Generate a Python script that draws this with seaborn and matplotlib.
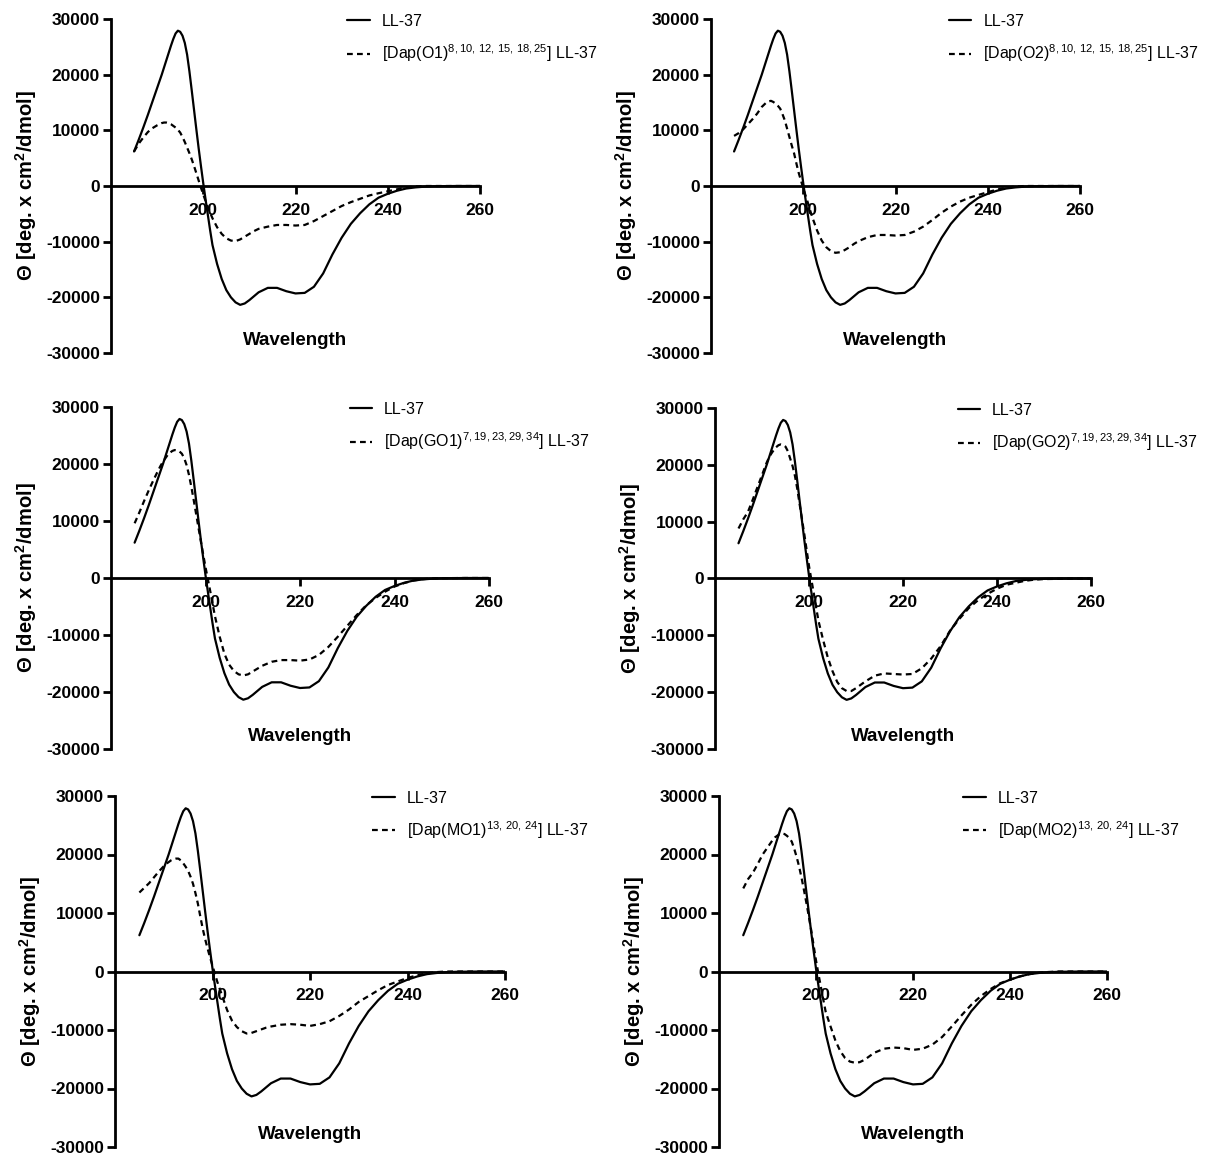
import matplotlib
matplotlib.use('Agg')
import matplotlib.pyplot as plt
import pandas as pd
import seaborn as sns

# wavelength grid (nm) shared by all curves, finer around the 195 nm peak
wavelength = ([185, 186, 187, 188, 189, 190]
              + [190.5 + 0.5 * i for i in range(24)]
              + list(range(203, 213)) + list(range(214, 251, 2)) + [255, 260])

ll37 = [6200, 8300, 10500, 12800, 15200, 17600,
        18800, 20000, 21300, 22600, 23900, 25200, 26400, 27400, 27900, 27700,
        27000, 25700, 23600, 20600, 17200, 13700, 10200, 6800, 3600, 500,
        -2400, -5200, -8000, -10600,
        -14000, -16700, -18700, -20000, -20900, -21350, -21100, -20500, -19800, -19100,
        -18300, -18300, -18900, -19300, -19200, -18100, -15700, -12300, -9300,
        -6800, -4900, -3300, -2100, -1400, -850, -450, -250, -120, -50,
        0, 0]

dap_o1 = [6200, 7600, 8700, 9700, 10400, 10900,
          11100, 11300, 11400, 11400, 11300, 11100, 10800, 10500, 10100, 9600,
          8800, 7900, 6900, 5900, 4800, 3600, 2300, 1000, -300, -1500,
          -2700, -3800, -4800, -5800,
          -7400, -8600, -9400, -9800, -9900, -9600, -9100, -8600, -8100, -7700,
          -7300, -7000, -7000, -7100, -7000, -6300, -5400, -4500, -3600,
          -2900, -2300, -1700, -1300, -950, -600, -250, -80, 0, 0,
          0, 0]

dap_o2 = [9000, 9500, 10200, 11100, 12000, 13000,
          13600, 14200, 14600, 15000, 15200, 15300, 15100, 14800, 14400, 13900,
          12900, 11800, 10300, 8800, 7300, 5900, 4100, 2400, 1000, -400,
          -1700, -3000, -4400, -5700,
          -8000, -9800, -11000, -11700, -12000, -11900, -11500, -11000, -10400, -9900,
          -9200, -8800, -8800, -8900, -8800, -8200, -7300, -6100, -4800,
          -3700, -2800, -2100, -1600, -1100, -650, -300, -100, 0, 0,
          0, 0]

dap_go1 = [9600, 11500, 13500, 15400, 17200, 18900,
           19700, 20400, 21000, 21600, 22000, 22300, 22450, 22400, 22200, 21800,
           21000, 19800, 18100, 16000, 13700, 11300, 8900, 6500, 4200, 1900,
           -200, -2300, -4500, -6700,
           -10300, -13300, -15200, -16300, -16900, -17100, -16900, -16400, -15900, -15400,
           -14700, -14400, -14400, -14500, -14300, -13500, -12100, -10300, -8400,
           -6500, -4800, -3500, -2400, -1500, -900, -450, -200, -80, -30,
           0, 0]

dap_go2 = [8800, 10400, 11700, 13800, 16000, 18200,
           19300, 20400, 21300, 22000, 22600, 23100, 23450, 23600, 23500, 23200,
           22400, 21100, 19800, 18100, 15800, 13100, 10500, 7800, 5000, 2200,
           -200, -2500, -5000, -7400,
           -10800, -13900, -16300, -18200, -19300, -19800, -19800, -19300, -18700, -18100,
           -17100, -16700, -16800, -16900, -16800, -15800, -14100, -11900, -9200,
           -7100, -5200, -3800, -2700, -1800, -1100, -750, -400, -200, -100,
           -30, 0]

dap_mo1 = [13500, 14300, 15100, 16100, 17100, 18000,
           18400, 18700, 19000, 19200, 19300, 19300, 19000, 18500, 17900, 17200,
           16200, 15000, 13400, 11600, 9400, 7300, 5500, 3900, 2400, 1000,
           -400, -1800, -3000, -4200,
           -6600, -8400, -9500, -10200, -10600, -10500, -10200, -9900, -9600, -9400,
           -9100, -9000, -9100, -9300, -9000, -8500, -7600, -6500, -5200,
           -4200, -3200, -2300, -1700, -1100, -650, -300, -100, 0, 0,
           0, 0]

dap_mo2 = [14200, 15800, 16900, 18400, 20000, 21200,
           21800, 22400, 22900, 23200, 23500, 23600, 23500, 23200, 22800, 22200,
           21000, 19600, 18000, 16100, 14000, 11800, 9500, 7100, 4500, 1900,
           -400, -2600, -4800, -6900,
           -9400, -11800, -13600, -14800, -15400, -15600, -15500, -15100, -14500, -13900,
           -13200, -13000, -13100, -13400, -13200, -12500, -11200, -9400, -7500,
           -5700, -4200, -3000, -2000, -1400, -850, -450, -200, -80, 0,
           0, 0]

variant_labels = [
    r'[Dap(O1)$^{\mathrm{8,10,\,12,\,15,\,18,25}}$] LL-37',
    r'[Dap(O2)$^{\mathrm{8,10,\,12,\,15,\,18,25}}$] LL-37',
    r'[Dap(GO1)$^{\mathrm{7,19,23,29,34}}$] LL-37',
    r'[Dap(GO2)$^{\mathrm{7,19,23,29,34}}$] LL-37',
    r'[Dap(MO1)$^{\mathrm{13,\,20,\,24}}$] LL-37',
    r'[Dap(MO2)$^{\mathrm{13,\,20,\,24}}$] LL-37',
]
variant_values = [dap_o1, dap_o2, dap_go1, dap_go2, dap_mo1, dap_mo2]

y_ticks = [-30000, -20000, -10000, 0, 10000, 20000, 30000]
x_ticks = [200, 220, 240, 260]

# panel boxes in pixels: x0, x1, ytop, ybottom  plus legend x anchor
panels = [
    (111, 480, 19, 353, 0.64),
    (711, 1080, 19, 353, 0.645),
    (111, 489, 407, 749, 0.632),
    (715, 1091, 408, 749, 0.646),
    (115, 505, 796, 1147, 0.66),
    (719, 1107, 796, 1147, 0.63),
]

sns.set_style('ticks')
plt.rcParams['font.family'] = ['Liberation Sans', 'DejaVu Sans']
plt.rcParams['mathtext.fontset'] = 'custom'
plt.rcParams['mathtext.rm'] = 'Liberation Sans'
plt.rcParams['mathtext.bf'] = 'Liberation Sans:bold'
plt.rcParams['mathtext.it'] = 'Liberation Sans:italic'
plt.rcParams['axes.unicode_minus'] = False
for key in ['text.color', 'axes.labelcolor', 'xtick.color', 'ytick.color', 'axes.edgecolor']:
    plt.rcParams[key] = 'black'

W, H = 1210, 1170
fig = plt.figure(figsize=(W / 100, H / 100), dpi=100)

for (x0, x1, yt, yb, lx), label, values in zip(panels, variant_labels, variant_values):
    ax = fig.add_axes([x0 / W, 1 - yb / H, (x1 - x0) / W, (yb - yt) / H])
    df = pd.DataFrame({'Wavelength': wavelength, 'LL-37': ll37, 'variant': values})
    sns.lineplot(data=df, x='Wavelength', y='LL-37', ax=ax, color='black', lw=1.6,
                 label='LL-37')
    sns.lineplot(data=df, x='Wavelength', y='variant', ax=ax, color='black', lw=1.6,
                 linestyle=(0, (2.6, 1.9)), label=label)

    ax.set_xlim(180, 260)
    ax.set_ylim(-30000, 30000)
    ax.set_xticks(x_ticks)
    ax.set_yticks(y_ticks)
    ax.spines['top'].set_visible(False)
    ax.spines['right'].set_visible(False)
    ax.spines['bottom'].set_position(('data', 0))
    for s in ['left', 'bottom']:
        ax.spines[s].set_linewidth(2.0)
    ax.tick_params(width=2.0, length=6, labelsize=12.5)
    ax.tick_params(axis='x', pad=6)
    ax.tick_params(axis='y', pad=2)
    for t in ax.get_xticklabels() + ax.get_yticklabels():
        t.set_fontweight('bold')

    ax.set_xlabel('Wavelength', fontsize=13.5, fontweight='bold')
    ax.xaxis.set_label_coords(0.5, 0.037)
    ax.xaxis.label.set_va('center')
    ax.set_ylabel('Θ [deg. x cm$^{\\mathbf{2}}$/dmol]', fontsize=14.5, fontweight='bold')
    ax.yaxis.set_label_coords(-85 / (x1 - x0), 0.5)
    ax.yaxis.label.set_va('center')

    ax.legend(loc='upper left', bbox_to_anchor=(lx, 1.015), frameon=False,
              fontsize=11.5, handlelength=1.4, handletextpad=0.75, labelspacing=0.85,
              borderpad=0, borderaxespad=0)

fig.savefig('out.png', dpi=100)
